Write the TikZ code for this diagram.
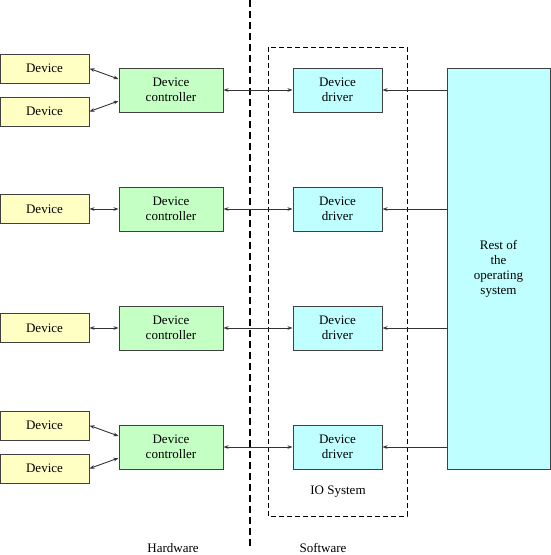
\documentclass[tikz,border=0pt]{standalone}
\usepackage{fontspec}
\setmainfont{Liberation Serif}
\usetikzlibrary{arrows.meta}

\definecolor{devfill}{HTML}{FFFFC4}
\definecolor{ctrlfill}{HTML}{C4FFC4}
\definecolor{drvfill}{HTML}{C0FFFF}

\begin{document}
\begin{tikzpicture}[x=1pt,y=-1pt,
  box/.style={draw=black!75,line width=1pt,inner sep=0pt,align=center,
    font=\fontsize{13}{15}\selectfont},
  devbox/.style={box,fill=devfill,minimum width=89pt,minimum height=29pt},
  ctrlbox/.style={box,fill=ctrlfill,minimum width=104pt,minimum height=44pt},
  drvbox/.style={box,fill=drvfill,minimum width=89pt,minimum height=44pt},
  link/.style={black!80,line width=0.9pt,
    {Stealth[length=5pt,width=3.6pt]}-{Stealth[length=5pt,width=3.6pt]}},
  tolink/.style={black!80,line width=0.9pt,-{Stealth[length=5pt,width=3.6pt]}},
  caption/.style={font=\fontsize{13}{15}\selectfont}]
\useasboundingbox (0,0) rectangle (551,555);

% hardware / software divider and the IO system frame
\draw[line width=1.6pt,dash pattern=on 7pt off 4pt] (250,0) -- (250,548);
\draw[line width=0.8pt,dash pattern=on 5pt off 3pt] (268,47) rectangle (407,516);

\node[box,fill=drvfill,minimum width=103pt,minimum height=401pt] (os) at (498.5,268.5)
  {Rest of\\the\\operating\\system};

\foreach \i/\y in {1/90,2/209,3/328,4/447} {
  \node[ctrlbox] (ctrl\i) at (171,\y) {Device\\controller};
  \node[drvbox] (drv\i) at (337.5,\y) {Device\\driver};
  \draw[link] (ctrl\i) -- (drv\i);
  \draw[tolink] (os.west |- drv\i) -- (drv\i);
}

% devices
\node[devbox] (dev1a) at (44.5,68.5) {Device};
\node[devbox] (dev1b) at (44.5,111.5) {Device};
\node[devbox] (dev2) at (44.5,209) {Device};
\node[devbox] (dev3) at (44.5,328) {Device};
\node[devbox] (dev4a) at (44.5,425.5) {Device};
\node[devbox] (dev4b) at (44.5,468.5) {Device};

\draw[link] (dev1a.east) -- ([yshift=11pt]ctrl1.west);
\draw[link] (dev1b.east) -- ([yshift=-11pt]ctrl1.west);
\draw[link] (dev2) -- (ctrl2);
\draw[link] (dev3) -- (ctrl3);
\draw[link] (dev4a.east) -- ([yshift=11pt]ctrl4.west);
\draw[link] (dev4b.east) -- ([yshift=-11pt]ctrl4.west);

\node[caption] (iosys) at (338,492) {IO System};
\node[caption] (hw) at (173,548) {Hardware};
\node[caption] (sw) at (323,548) {Software};
\end{tikzpicture}
\end{document}
